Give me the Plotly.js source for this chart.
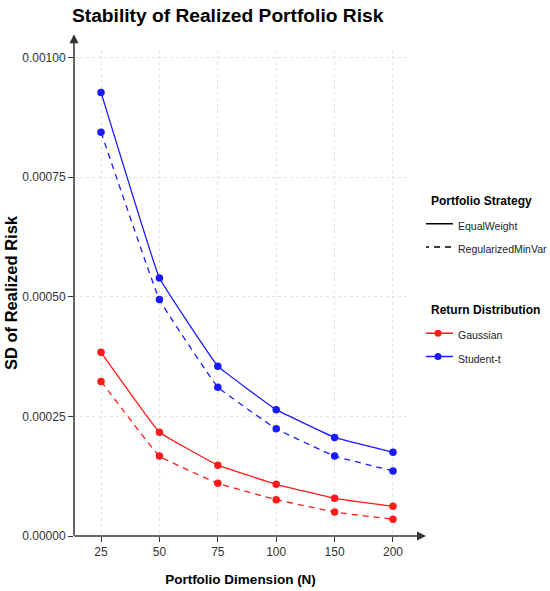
<!DOCTYPE html>
<html>
<head>
<meta charset="utf-8">
<script src="https://cdn.plot.ly/plotly-3.0.1.min.js"></script>
<style>
html,body{margin:0;padding:0;background:#fff;overflow:hidden;width:550px;height:591px;}
#chart{width:570px;height:591px;}
</style>
</head>
<body>
<div id="chart"></div>
<script>
// ---- data ----
const dimensions = ['25', '50', '75', '100', '150', '200'];
const studentEqualWeight = [0.000927, 0.000539, 0.000355, 0.000264, 0.000206, 0.000175];
const studentRegMinVar   = [0.000844, 0.000494, 0.000311, 0.000224, 0.000167, 0.000136];
const gaussEqualWeight   = [0.000384, 0.000217, 0.000148, 0.000108, 0.0000788, 0.000062];
const gaussRegMinVar     = [0.000323, 0.000167, 0.000110, 0.000076, 0.000050, 0.000035];
const yTickVals = [0, 0.00025, 0.0005, 0.00075, 0.001];
const yTickText = ['0.00000', '0.00025', '0.00050', '0.00075', '0.00100'];
const strategyNames = ['EqualWeight', 'RegularizedMinVar'];
const distNames = ['Gaussian', 'Student-t'];
const legendTitles = ['Portfolio Strategy', 'Return Distribution'];

const RED = '#ff1a1a', BLUE = '#1a1aff';
const DASH = '6px,5px';
const FONT = 'Liberation Sans, Arial, sans-serif';

function series(y, color, dash) {
  return {
    x: dimensions, y: y, type: 'scatter', mode: 'lines+markers',
    line: {color: color, width: 1.3, dash: dash, shape: 'spline', smoothing: 0.2},
    marker: {color: color, size: 7.5},
    showlegend: false, hoverinfo: 'x+y'
  };
}
function lbl(s) { return '<span style="font-size:10.5px">' + s + '</span>'; }
function ttl(s) { return '<span style="font-size:12px">' + s + '</span>'; }
const GT_FONT = {size: 23, weight: 'bold', color: '#000'};

const traces = [
  series(gaussEqualWeight, RED, 'solid'),
  series(gaussRegMinVar, RED, DASH),
  series(studentEqualWeight, BLUE, 'solid'),
  series(studentRegMinVar, BLUE, DASH),
  // legend entries
  {x: [null], y: [null], type: 'scatter', mode: 'lines', name: lbl(strategyNames[0]),
   line: {color: '#000', width: 1.5}, legendgroup: 'strat',
   legendgrouptitle: {text: ttl(legendTitles[0]), font: GT_FONT}},
  {x: [null], y: [null], type: 'scatter', mode: 'lines', name: lbl(strategyNames[1]),
   line: {color: '#000', width: 1.5, dash: DASH}, legendgroup: 'strat'},
  {x: [null], y: [null], type: 'scatter', mode: 'lines+markers', name: lbl(distNames[0]),
   line: {color: RED, width: 1.5}, marker: {color: RED, size: 7}, legendgroup: 'dist',
   legendgrouptitle: {text: ttl(legendTitles[1]), font: GT_FONT}},
  {x: [null], y: [null], type: 'scatter', mode: 'lines+markers', name: lbl(distNames[1]),
   line: {color: BLUE, width: 1.5}, marker: {color: BLUE, size: 7}, legendgroup: 'dist'}
];

const plotL = 74, plotR = 407, plotH = 486;
const plotW = plotR - plotL;
const layout = {
  width: 570, height: 591,
  margin: {l: plotL, r: 570 - plotR, t: 50, b: 55, pad: 0},
  paper_bgcolor: '#fff', plot_bgcolor: '#fff',
  font: {family: FONT, color: '#333', size: 12},
  title: {
    text: 'Stability of Realized Portfolio Risk',
    font: {size: 19.2, weight: 'bold', color: '#000', family: FONT},
    xref: 'container', x: 72/570, xanchor: 'left',
    yref: 'container', y: 1 - 15/591, yanchor: 'middle'
  },
  xaxis: {
    type: 'category', range: [-0.463, 5.24],
    showgrid: true, gridcolor: '#e3e3e3', griddash: 'dot', gridwidth: 1,
    zeroline: false, showline: false,
    ticks: 'outside', ticklen: 5, tickcolor: '#333', tickwidth: 1,
    tickfont: {size: 12, color: '#333'},
    title: {text: 'Portfolio Dimension (N)', font: {size: 13.5, weight: 'bold', color: '#000'}, standoff: 16},
    fixedrange: true
  },
  yaxis: {
    range: [0, plotH / 478.5 * 0.001],
    tickvals: yTickVals, ticktext: yTickText,
    showgrid: true, gridcolor: '#e3e3e3', griddash: 'dot', gridwidth: 1,
    zeroline: false, showline: false,
    ticks: 'outside', ticklen: 5, tickcolor: '#333', tickwidth: 1,
    tickfont: {size: 12, color: '#333'},
    title: {text: 'SD of Realized Risk', font: {size: 16.5, weight: 'bold', color: '#000'}, standoff: 0},
    fixedrange: true
  },
  legend: {
    x: (426 - plotL) / plotW, xanchor: 'left', y: (535.7 - 174) / plotH, yanchor: 'top',
    font: {size: 15.6, color: '#222'},
    traceorder: 'grouped', tracegroupgap: 30, indentation: -8,
    bgcolor: 'rgba(0,0,0,0)', itemwidth: 30
  },
  annotations: [
    {xref: 'paper', yref: 'paper', x: (426 - plotL) / plotW, y: 0, ax: -353, ay: 0,
     axref: 'pixel', ayref: 'pixel', text: '', showarrow: true,
     arrowhead: 2, arrowsize: 1.2, arrowwidth: 1.5, arrowcolor: '#333', standoff: 0},
    {xref: 'paper', yref: 'paper', x: 0, y: (535.7 - 34) / plotH, ax: 0, ay: 503,
     axref: 'pixel', ayref: 'pixel', text: '', showarrow: true,
     arrowhead: 2, arrowsize: 1.2, arrowwidth: 1.5, arrowcolor: '#333', standoff: 0}
  ],
  hovermode: 'closest'
};

Plotly.newPlot('chart', traces, layout, {displayModeBar: false, staticPlot: true});
</script>
</body>
</html>
